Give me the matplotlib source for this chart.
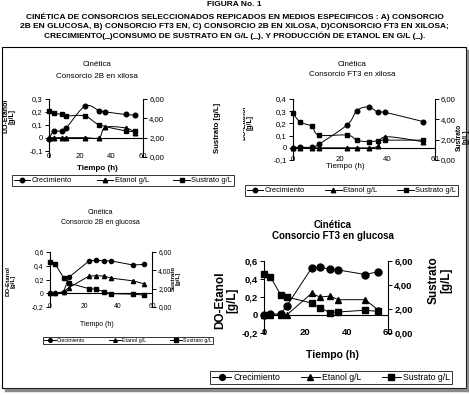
import numpy as np
import matplotlib
matplotlib.use("Agg")
import matplotlib.pyplot as plt
from matplotlib.lines import Line2D
from matplotlib.patches import Rectangle
from matplotlib.ticker import FuncFormatter
from matplotlib.transforms import Bbox, TransformedBbox

plt.rcParams['font.family'] = ['Liberation Sans', 'DejaVu Sans']

# --- data ---
# A) Consorcio 2B en xilosa
tA = [0, 3, 8, 11, 23, 32, 36, 49, 55]
creA = [-0.01, 0.05, 0.05, 0.075, 0.245, 0.21, 0.20, 0.18, 0.175]
etaA = [0, 0, 0, 0, 0, 0, 0.08, 0.075, 0.04]
tA_sus = [0, 3, 8, 11, 23, 32, 49, 55]
susA = [4.8, 4.55, 4.4, 4.25, 4.25, 3.35, 2.7, 2.65]

# B) Consorcio FT3 en xilosa
tB = [0, 3, 8, 11, 23, 27, 32, 36, 39, 55]
creB = [0, 0.005, 0.005, 0.03, 0.19, 0.305, 0.335, 0.29, 0.29, 0.215]
etaB = [0, 0, 0, 0, 0, 0, 0, 0.015, 0.09, 0.05]
susB = [4.6, 3.75, 3.3, 2.45, 2.45, 1.95, 1.8, 1.9, 1.95, 1.95]

# C) Consorcio 2B en glucosa
tC = [0, 3, 8, 11, 23, 27, 32, 36, 49, 55]
creC = [0, 0, 0.02, 0.23, 0.47, 0.48, 0.47, 0.47, 0.41, 0.42]
etaC = [0, 0, 0.02, 0.08, 0.25, 0.255, 0.25, 0.22, 0.18, 0.14]
susC = [4.95, 4.7, 3.2, 2.6, 2.0, 1.95, 1.65, 1.45, 1.4, 1.3]

# D) Consorcio FT3 en glucosa
tD = [0, 3, 8, 11, 23, 27, 32, 36, 49, 55]
creD = [0, 0.01, 0.01, 0.10, 0.52, 0.53, 0.51, 0.50, 0.45, 0.48]
etaD = [0, 0, 0, 0, 0.24, 0.20, 0.21, 0.17, 0.17, 0.06]
susD = [4.9, 4.7, 3.2, 3.0, 2.5, 2.1, 1.7, 1.75, 1.9, 1.8]

x_ticks = [0, 20, 40, 60]
right_ticks = [0, 2, 4, 6]
legend_labels = ["Crecimiento", "Etanol g/L", "Sustrato g/L"]

title_lines = [
    "FIGURA No. 1",
    "CINÉTICA DE CONSORCIOS SELECCIONADOS REPICADOS EN MEDIOS ESPECIFICOS : A) CONSORCIO",
    "2B EN GLUCOSA, B) CONSORCIO FT3 EN, C) CONSORCIO 2B EN XILOSA, D)CONSORCIO FT3 EN XILOSA;",
    "CRECIMIENTO(_)CONSUMO DE SUSTRATO EN G/L (_), Y PRODUCCIÓN DE ETANOL EN G/L (_).",
]

W, H = 469, 395
fig = plt.figure(figsize=(W / 100, H / 100), dpi=100)
fig.patch.set_facecolor("white")


def fx(px):
    return px / W


def fy(py):
    return 1 - py / H


def rect(x0, y0, x1, y1):
    return [fx(x0), fy(y1), fx(x1) - fx(x0), fy(y0) - fy(y1)]


def smooth(x, y, n=10):
    # catmull-rom, roughly what excel does with "smoothed line"
    p = np.column_stack([x, y]).astype(float)
    p = np.vstack([p[0], p, p[-1]])
    out = []
    for i in range(1, len(p) - 2):
        p0, p1, p2, p3 = p[i - 1], p[i], p[i + 1], p[i + 2]
        s = np.linspace(0, 1, n, endpoint=False)[:, None]
        c = 0.5 * ((2 * p1) + (-p0 + p2) * s + (2 * p0 - 5 * p1 + 4 * p2 - p3) * s ** 2
                   + (-p0 + 3 * p1 - 3 * p2 + p3) * s ** 3)
        out.append(c)
    out.append(p[-2][None, :])
    c = np.vstack(out)
    return c[:, 0], c[:, 1]


def left_fmt(v, pos):
    if abs(v) < 1e-9:
        return "0"
    return f"{v:.1f}".replace(".", ",")


def right_fmt(v, pos):
    return f"{v:.2f}".replace(".", ",")


def series(ax, x, y, marker, ms, is_smooth):
    if is_smooth:
        sx, sy = smooth(x, y)
        ax.plot(sx, sy, color="black", lw=0.7, clip_on=False)
    else:
        ax.plot(x, y, color="black", lw=0.7, clip_on=False)
    ax.plot(x, y, ls="none", marker=marker, ms=ms, color="black", clip_on=False)


def chart(box, t1, cre, t2, eta, t3, sus, ylim, yticks, fs, ms, is_smooth, weight="normal",
          rpad=1.5):
    ax = fig.add_axes(rect(*box))
    ax2 = ax.twinx()
    ax.patch.set_alpha(0)
    for a in (ax, ax2):
        a.spines["top"].set_visible(False)
        a.spines["bottom"].set_visible(False)
        for s in a.spines.values():
            s.set_linewidth(0.8)
    ax.spines["right"].set_visible(False)
    ax2.spines["left"].set_visible(False)
    ax.set_xlim(0, 60)
    ax.set_ylim(*ylim)
    ax2.set_ylim(0, 6)
    ax.axhline(0, color="black", lw=0.8)
    ax.set_xticks(x_ticks)
    ax.set_yticks(yticks)
    ax2.set_yticks(right_ticks)
    ax.yaxis.set_major_formatter(FuncFormatter(left_fmt))
    ax2.yaxis.set_major_formatter(FuncFormatter(right_fmt))
    ax.tick_params(axis="x", length=0, pad=-fs * 0.55, labelsize=fs)
    ax.tick_params(axis="y", length=3, width=0.7, direction="out", pad=1.5, labelsize=fs)
    ax2.tick_params(axis="y", length=3, width=0.7, direction="out", pad=rpad, labelsize=fs)
    for lab in ax.get_xticklabels() + ax.get_yticklabels() + ax2.get_yticklabels():
        lab.set_fontweight(weight)
    series(ax, t1, cre, "o", ms, is_smooth)
    series(ax, t2, eta, "^", ms, is_smooth)
    series(ax2, t3, sus, "s", ms * 0.9, is_smooth)
    return ax


def legend(box, fs, ms):
    handles = [Line2D([], [], color="black", lw=0.7, marker=m, ms=ms) for m in ("o", "^", "s")]
    x0, y0, x1, y1 = box
    leg = fig.legend(handles, legend_labels, loc="center", ncol=3, mode="expand",
                     bbox_to_anchor=(fx(x0), fy(y1), fx(x1) - fx(x0), fy(y0) - fy(y1)),
                     fontsize=fs, frameon=True, fancybox=False, borderpad=0.25,
                     handlelength=2.2, handletextpad=0.2, columnspacing=0.5,
                     borderaxespad=0)
    leg.get_frame().set_edgecolor("black")
    leg.get_frame().set_linewidth(0.7)


def vlabel(x, y, s, fs, weight="bold"):
    return fig.text(fx(x), fy(y), s, rotation=90, ha="center", va="center", fontsize=fs,
                    fontweight=weight, linespacing=1.0)


# header
fig.text(0.5, fy(5), title_lines[0], ha="center", va="center", fontsize=6.0, fontweight="bold")
for i, line in enumerate(title_lines[1:]):
    fig.text(0.5, fy(16.5 + i * 9.6), line, ha="center", va="center", fontsize=6.0,
             fontweight="bold")

# outer frame with grey shadow
fig.add_artist(Line2D([fx(467.5), fx(467.5)], [fy(51), fy(390)], color="#8a8a8a", lw=2.5))
fig.add_artist(Line2D([fx(6), fx(468.5)], [fy(389.5), fy(389.5)], color="#8a8a8a", lw=2.5))
fig.add_artist(Rectangle((fx(2), fy(388)), fx(466) - fx(2), fy(47) - fy(388), fill=False,
                         edgecolor="black", lw=0.8))

# A
chart((49, 99, 143, 157), tA, creA, tA, etaA, tA_sus, susA, (-0.15, 0.3),
      [-0.1, 0, 0.1, 0.2, 0.3], 5.6, 3.3, True)
fig.text(fx(97), fy(65), "Cinética", ha="center", va="center", fontsize=5.8)
fig.text(fx(97), fy(76), "Consorcio 2B en xilosa", ha="center", va="center", fontsize=5.8)
fig.text(fx(97), fy(168), "Tiempo (h)", ha="center", va="center", fontsize=5.8, fontweight="bold")
vlabel(9, 116, "DO-Etanol\n[g/L]", 5.0)
vlabel(217, 128, "Sustrato [g/L]", 5.6)
legend((12, 174, 234, 187), 5.4, 3.2)

# B
chart((293, 99, 435, 160), tB, creB, tB, etaB, tB, susB, (-0.1, 0.4),
      [-0.1, 0, 0.1, 0.2, 0.3, 0.4], 5.6, 3.3, True, rpad=1.0)
fig.text(fx(352), fy(65), "Cinética", ha="center", va="center", fontsize=5.8)
fig.text(fx(352), fy(75), "Consorcio FT3 en xilosa", ha="center", va="center", fontsize=5.8)
fig.text(fx(345), fy(167), "Tiempo (h)", ha="center", va="center", fontsize=5.8)
# the upper line of this label is cut off by the chart edge in the original
lab_b = vlabel(247, 123, "DO-Etanol\n[g/L]", 5.0)
lab_b.set_clip_on(True)
lab_b.set_clip_box(TransformedBbox(Bbox([[fx(243.2), 0], [1, 1]]), fig.transFigure))
vlabel(462.3, 137, "Sustrato\n[g/L]", 4.8)
legend((245, 184, 458, 197), 5.4, 3.2)

# C
chart((50, 252, 152, 307), tC, creC, tC, etaC, tC, susC, (-0.2, 0.6),
      [-0.2, 0, 0.2, 0.4, 0.6], 4.9, 3.0, False)
fig.text(fx(100), fy(213), "Cinética", ha="center", va="center", fontsize=5.0)
fig.text(fx(100), fy(223), "Consorcio 2B en glucosa", ha="center", va="center", fontsize=5.0)
fig.text(fx(97), fy(324), "Tiempo (h)", ha="center", va="center", fontsize=5.0)
vlabel(11, 281, "DO-Etanol\n[g/L]", 4.4)
vlabel(176, 278, "Sustrato\n[g/L]", 4.4)
legend((43, 334, 213, 347), 3.8, 2.6)

# D
chart((264, 261, 388, 333), tD, creD, tD, etaD, tD, susD, (-0.2, 0.6),
      [-0.2, 0, 0.2, 0.4, 0.6], 6.8, 5.0, False, weight="bold")
fig.text(fx(333), fy(225), "Cinética", ha="center", va="center", fontsize=7.0, fontweight="bold")
fig.text(fx(333), fy(236), "Consorcio FT3 en glucosa", ha="center", va="center", fontsize=7.0,
         fontweight="bold")
fig.text(fx(332), fy(355), "Tiempo (h)", ha="center", va="center", fontsize=7.5, fontweight="bold")
vlabel(226, 300, "DO-Etanol\n[g/L]", 8.5)
vlabel(440, 280, "Sustrato\n[g/L]", 8.5)
legend((210, 371, 452, 384), 6.3, 4.2)

fig.savefig("out.png", dpi=100)
